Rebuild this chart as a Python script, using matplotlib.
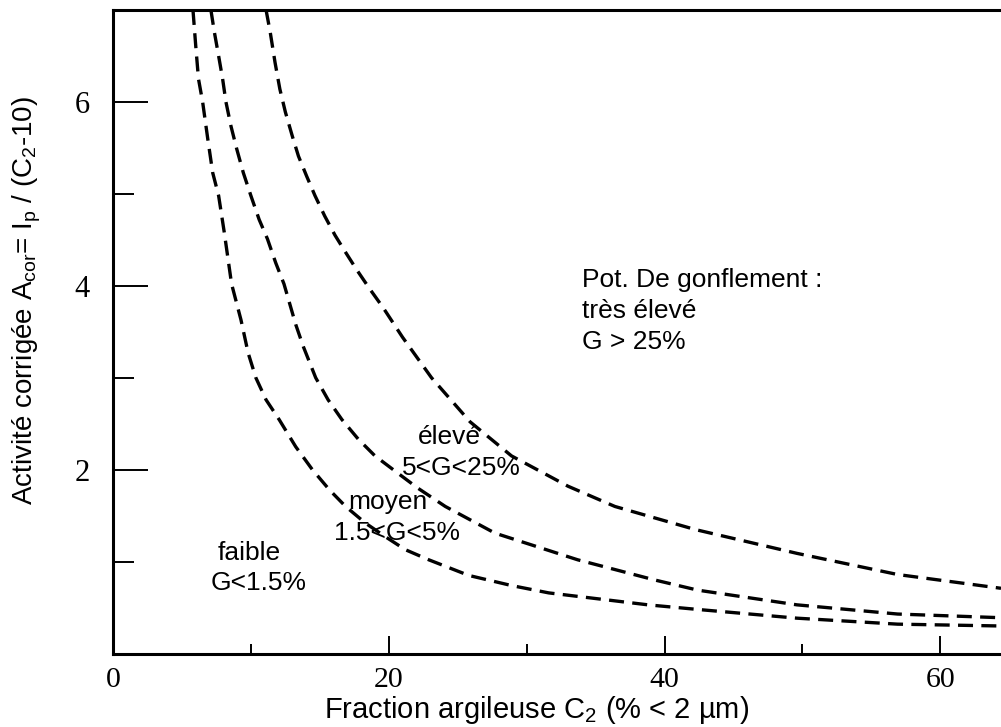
import matplotlib.pyplot as plt

# Arial-like text, Times-like tick numbers
plt.rcParams['font.family'] = 'Liberation Sans'
plt.rcParams['mathtext.fontset'] = 'custom'
plt.rcParams['mathtext.rm'] = 'Liberation Sans'
plt.rcParams['mathtext.default'] = 'regular'

# Boundary curves: clay fraction C2 (%) -> corrected activity
# G = 1.5 %
c_15 = [5.8, 6.0, 6.2, 6.5, 6.87, 7.23, 7.66, 8.07, 8.6, 9.28, 9.8, 10.36, 11.1, 12.05, 13.25,
        14.46, 15.7, 16.87, 18.3, 19.76, 21.2, 22.9, 25.8, 28.9, 31.6, 38.8, 42.4, 49.6, 56.9, 64.4]
a_15 = [7.0, 6.61, 6.25, 6.0, 5.6, 5.23, 4.98, 4.58, 4.02, 3.63, 3.27, 3.0, 2.76, 2.545, 2.25,
        2.0, 1.78, 1.6, 1.42, 1.27, 1.13, 1.02, 0.85, 0.74, 0.66, 0.53, 0.48, 0.385, 0.32, 0.30]

# G = 5 %
c_5 = [7.1, 7.35, 7.66, 7.95, 8.19, 8.55, 8.97, 9.45, 10.0, 10.6, 11.2, 11.8, 12.4, 13.25, 13.8,
       14.7, 15.6, 16.6, 17.8, 19.0, 20.5, 22.1, 24.1, 27.7, 33.7, 39.3, 42.4, 49.6, 56.9, 64.4]
a_5 = [7.0, 6.76, 6.5, 6.25, 6.0, 5.74, 5.49, 5.23, 4.98, 4.72, 4.51, 4.25, 4.02, 3.58, 3.34,
       3.0, 2.76, 2.545, 2.33, 2.15, 1.98, 1.8, 1.6, 1.31, 1.02, 0.80, 0.69, 0.53, 0.43, 0.39]

# G = 25 %
c_25 = [11.1, 11.4, 11.75, 12.1, 12.5, 13.0, 13.45, 14.05, 14.65, 15.35, 16.1, 16.8, 17.65,
        18.6, 19.6, 21.0, 23.1, 25.9, 28.9, 33.0, 36.4, 42.2, 49.6, 56.9, 64.4]
a_25 = [7.0, 6.76, 6.43, 6.14, 5.89, 5.63, 5.41, 5.19, 4.98, 4.76, 4.55, 4.38, 4.18,
        3.97, 3.76, 3.44, 3.0, 2.52, 2.15, 1.82, 1.6, 1.35, 1.09, 0.86, 0.71]

x_major = [0, 20, 40, 60]
x_minor = [10, 30, 50]
y_major = [2, 4, 6]
y_minor = [1, 3, 5]

fig = plt.figure(figsize=(10.01, 7.27), dpi=100)
ax = fig.add_axes([113 / 1001, 0.101, 1 - 113 / 1001, 0.8853])

for c, a in [(c_15, a_15), (c_5, a_5), (c_25, a_25)]:
    ax.plot(c, a, color='black', lw=2.4, dashes=(4.5, 2.5))

ax.set_xlim(0, 64.4)
ax.set_ylim(0, 7)

ax.spines['right'].set_visible(False)
for side in ['left', 'bottom', 'top']:
    ax.spines[side].set_linewidth(2.2)

ax.set_xticks(x_major)
ax.set_xticks(x_minor, minor=True)
ax.set_yticks(y_major)
ax.set_yticks(y_minor, minor=True)
ax.tick_params(axis='x', which='major', direction='in', length=13, width=1.4, pad=10, labelsize=21.5, top=False)
ax.tick_params(axis='x', which='minor', direction='in', length=7, width=1.4, top=False)
ax.tick_params(axis='y', which='major', direction='in', length=25, width=1.4, pad=17, labelsize=22, right=False)
ax.tick_params(axis='y', which='minor', direction='in', length=15, width=1.4, right=False)
for lab in ax.get_xticklabels() + ax.get_yticklabels():
    lab.set_family('Liberation Serif')

# axis titles
fig.text(536.5 / 1001, 9 / 727, 'Fraction argileuse C$_2$ (% < 2 µm)',
         ha='center', va='baseline', fontsize=21)
fig.text(27 / 1001, 0.587, 'Activité corrigée A$_{cor}$= I$_p$ / (C$_2$-10)',
         rotation=90, ha='center', va='center', fontsize=20)

# zone labels
fs = 19
ax.text(9.85, 1.02, 'faible', ha='center', va='baseline', fontsize=fs)
ax.text(10.55, 0.69, 'G<1.5%', ha='center', va='baseline', fontsize=fs)
ax.text(19.9, 1.575, 'moyen', ha='center', va='baseline', fontsize=fs)
ax.text(20.6, 1.24, '1.5<G<5%', ha='center', va='baseline', fontsize=fs)
ax.text(24.4, 2.28, 'élevé', ha='center', va='baseline', fontsize=fs)
ax.text(25.3, 1.945, '5<G<25%', ha='center', va='baseline', fontsize=fs)
ax.text(34.0, 3.99, 'Pot. De gonflement :', ha='left', va='baseline', fontsize=fs)
ax.text(34.0, 3.65, 'très élevé', ha='left', va='baseline', fontsize=fs)
ax.text(34.0, 3.315, 'G > 25%', ha='left', va='baseline', fontsize=fs)

fig.savefig('out.png', dpi=100)
